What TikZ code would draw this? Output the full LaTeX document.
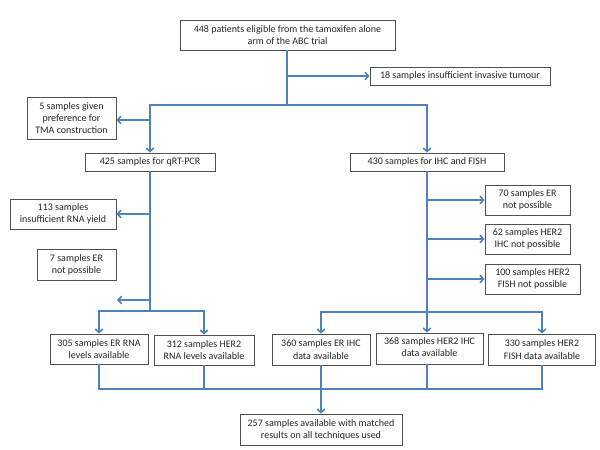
\documentclass[tikz,border=0pt]{standalone}
\usepackage{fontspec}
\setmainfont{Carlito}
\usetikzlibrary{arrows.meta}
\definecolor{linkblue}{HTML}{4F81BD}
\definecolor{boxgray}{HTML}{505050}
\tikzset{
  box/.style={draw=boxgray, line width=0.8pt, fill=white, align=center, inner sep=0pt,
    font=\fontsize{10}{12.3}\selectfont, text=black!85},
  link/.style={draw=linkblue, line width=2pt},
  arr/.style={link, -{Straight Barb[length=3.5pt,width=7.5pt,line width=1.6pt]}},
}
\begin{document}
\begin{tikzpicture}[x=1pt,y=-1pt]
\useasboundingbox (0,0) rectangle (600,450);
\fill[white] (0,0) rectangle (600,450);
% boxes
\node[box, minimum width=215pt, minimum height=30pt] (top) at (287.5,35) {448 patients eligible from the tamoxifen alone\\arm of the ABC trial};
\node[box, minimum width=180pt, minimum height=18pt] (tum) at (460,76) {18 samples insufficient invasive tumour};
\node[box, minimum width=89pt, minimum height=42pt] (tma) at (71.5,118) {5 samples given\\preference for\\TMA construction};
\node[box, minimum width=130pt, minimum height=18pt] (qrt) at (150,162) {425 samples for qRT-PCR};
\node[box, minimum width=154pt, minimum height=18pt] (ihc) at (427,162) {430 samples for IHC and FISH};
\node[box, minimum width=106pt, minimum height=30pt] (rna) at (63,214) {113 samples\\insufficient RNA yield};
\node[box, minimum width=79pt, minimum height=31pt] (erq) at (76.5,264.5) {7 samples ER\\not possible};
\node[box, minimum width=85pt, minimum height=30pt] (er70) at (527.5,200) {70 samples ER\\not possible};
\node[box, minimum width=85pt, minimum height=30pt] (her62) at (527.5,239) {62 samples HER2\\IHC not possible};
\node[box, minimum width=95pt, minimum height=30pt] (fish100) at (532.5,279) {100 samples HER2\\FISH not possible};
\node[box, minimum width=98pt, minimum height=30pt] (b305) at (99,349) {305 samples ER RNA\\levels available};
\node[box, minimum width=100pt, minimum height=30pt] (b312) at (204,350) {312 samples HER2\\RNA levels available};
\node[box, minimum width=98pt, minimum height=31pt] (b360) at (321,349.5) {360 samples ER IHC\\data available};
\node[box, minimum width=107pt, minimum height=31pt, text depth=3pt] (b368) at (429.5,348.5) {368 samples HER2 IHC\\data available};
\node[box, minimum width=107pt, minimum height=31pt] (b330) at (542,349.5) {330 samples HER2\\FISH data available};
\node[box, minimum width=162pt, minimum height=31pt] (b257) at (321,429.5) {257 samples available with matched\\results on all techniques used};
% junctions
\coordinate (j1) at (287,105);
\coordinate (j2) at (150,311);
\coordinate (j3) at (427,312);
\coordinate (j4) at (321,389);
\coordinate (free) at (117,300);
% connectors, top part
\draw[link] (j1 |- top.south) -- (j1);
\draw[arr] (j1 |- tum.west) -- (tum.west);
\draw[arr] (j1) -| (qrt.north);
\draw[arr] (j1) -| (ihc.north);
\draw[arr] (qrt.north |- 0,120) -- (tma.east |- 0,120);
% qRT-PCR branch
\draw[link] (qrt.south) -- (j2);
\draw[arr] (qrt.south |- rna.east) -- (rna.east);
\draw[arr] (qrt.south |- free) -- (free);
\draw[arr] (j2) -| (b305.north);
\draw[arr] (j2) -| (b312.north);
% IHC branch
\draw[link] (ihc.south) -- (j3);
\draw[arr] (ihc.south |- er70.west) -- (er70.west);
\draw[arr] (ihc.south |- her62.west) -- (her62.west);
\draw[arr] (ihc.south |- fish100.west) -- (fish100.west);
\draw[arr] (j3) -| (b360.north);
\draw[arr] (j3) -- (j3 |- b368.north);
\draw[arr] (j3) -| (b330.north);
% bottom merge
\draw[link] (b305.south) |- (b330.south |- j4) -- (b330.south);
\draw[link] (b312.south) -- (b312.south |- j4);
\draw[link] (j3 |- b368.south) -- (j3 |- j4);
\draw[arr] (b360.south) -- (b257.north);
\end{tikzpicture}
\end{document}
